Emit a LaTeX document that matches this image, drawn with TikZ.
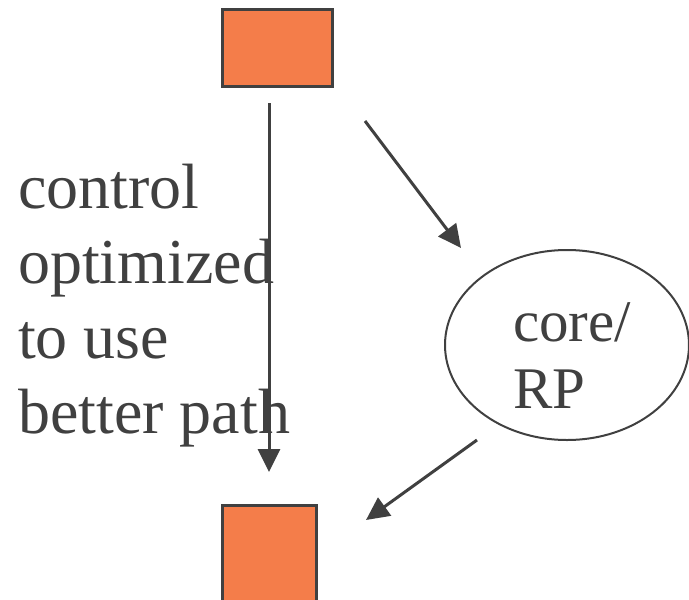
\documentclass[tikz,border=0pt]{standalone}
\usepackage{fontspec}
\setmainfont{Liberation Serif}
\usetikzlibrary{arrows.meta,shapes.geometric}
\definecolor{ink}{HTML}{404040}
\definecolor{boxfill}{HTML}{F47D4A}
\tikzset{
  routerbox/.style={draw=ink, line width=3pt, fill=boxfill, inner sep=0pt},
  conn/.style={draw=ink, line width=3pt, -{Triangle[length=23pt,width=22pt]}},
  bigtext/.style={text=ink, inner sep=0pt, align=left, anchor=north west},
}
\begin{document}
\begin{tikzpicture}[x=1pt,y=-1pt]
\useasboundingbox (0,0) rectangle (689,600);
\clip (0,0) rectangle (689,600);
\node[routerbox, minimum width=110pt, minimum height=77pt] (top) at (277.5,48) {};
\node[routerbox, minimum width=94pt, minimum height=109.5pt] (bottom) at (269.5,560) {};
\node[draw=ink, line width=2pt, ellipse, minimum width=244pt, minimum height=190pt, inner sep=0pt] (rp) at (567,345) {};
\node[bigtext, font=\fontsize{59}{67}\selectfont] (rplabel) at (513,302) {core/\\RP};
\node[bigtext, font=\fontsize{64}{75}\selectfont] (ctrl) at (18,164) {control\\optimized\\to use\\better path};
\coordinate (a1s) at (269,103);
\coordinate (a1e) at (269,472);
\coordinate (a2s) at (365,121);
\coordinate (a2e) at (461,248);
\coordinate (a3s) at (477,440);
\coordinate (a3e) at (366,520);
\draw[conn] (a1s) -- (a1e);
\draw[conn] (a2s) -- (a2e);
\draw[conn] (a3s) -- (a3e);
\end{tikzpicture}
\end{document}
